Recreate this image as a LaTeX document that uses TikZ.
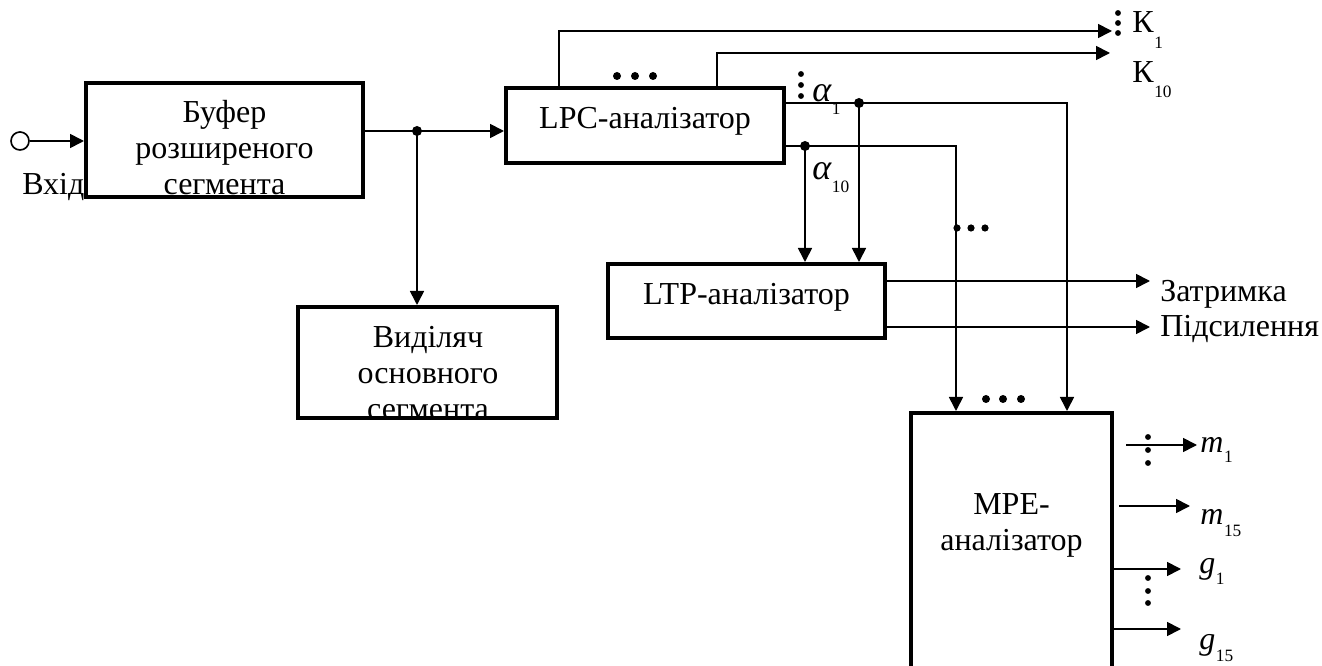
\documentclass[tikz,border=0pt]{standalone}
\usepackage{fontspec}
\setmainfont{Liberation Serif}
\usetikzlibrary{arrows.meta}
% subscript set well below the baseline
\newcommand{\lowsub}[2][9pt]{\kern0.5pt\raisebox{-#1}{\fontsize{13}{13}\selectfont #2}}
\begin{document}
\begin{tikzpicture}[x=0.75pt,y=-0.75pt,
  box/.style={draw,line width=3pt,inner sep=0pt},
  wire/.style={line width=1.25pt},
  arr/.style={wire,-{Triangle[length=10.5pt,width=10.5pt]}},
  txt/.style={font=\fontsize{24}{27}\selectfont,inner sep=0pt,align=center,text depth=0pt},
  lbl/.style={font=\fontsize{24}{27}\selectfont,inner sep=0pt,anchor=base west}]
\useasboundingbox (0,0) rectangle (1322,666);
\clip (0,0) rectangle (1322,666);

% blocks
\node[box,minimum width=207.75pt,minimum height=85.5pt] (buf) at (224.5,140) {};
\node[box,minimum width=208.5pt,minimum height=56.25pt] (lpc) at (645,125.5) {};
\node[box,minimum width=194.25pt,minimum height=83.25pt] (vid) at (427.5,362.5) {};
\node[box,minimum width=207.75pt,minimum height=55.5pt] (ltp) at (746.5,301) {};
\node[box,minimum width=150.75pt,minimum height=230.25pt] (mpe) at (1011.5,566.5) {};

% block texts (clipped to their frames)
\begin{scope}
  \clip (buf.south west) rectangle (buf.north east);
  \node[txt,anchor=south] (buftxt) at (224.5,195) {Буфер\\розширеного\\сегмента};
\end{scope}
\begin{scope}
  \clip (vid.south west) rectangle (vid.north east);
  \node[txt,anchor=south] (vidtxt) at (428,420) {Виділяч\\основного\\сегмента};
\end{scope}
\node[lbl,anchor=base] (lpctxt) at (645,129) {LPC-аналізатор};
\node[lbl,anchor=base] (ltptxt) at (746.5,305) {LTP-аналізатор};
\node[txt,anchor=south] (mpetxt) at (1011.5,551) {MPE-\\аналізатор};

% input
\node[circle,draw,wire,minimum size=13.5pt,inner sep=0pt] (in) at (20,141) {};
\node[lbl] (intxt) at (22,195) {Вхід};
\draw[arr] (in.east) -- (buf.west |- in);

% buffer output and branch
\coordinate (j0) at (417,131);
\draw[arr] (buf.east |- j0) -- (lpc.west |- j0);
\draw[arr] (j0) -- (j0 |- vid.north);
\fill (j0) circle[radius=3.75pt];

% reflection coefficients K
\coordinate (k1b) at (559,31);
\coordinate (k1) at (1112,31);
\coordinate (k10b) at (717,53);
\coordinate (k10) at (1110,53);
\draw[arr] (k1b |- lpc.north) -- (k1b) -- (k1);
\draw[arr] (k10b |- lpc.north) -- (k10b) -- (k10);
\foreach \x in {617,635,653} \fill (\x,76) circle[radius=3pt];
\foreach \y in {13,23,33} \fill (1118,\y) circle[radius=2.2pt];
\node[lbl] (lk1) at (1132,33) {К\lowsub[12pt]{1}};
\node[lbl] (lk10) at (1132,83) {К\lowsub[11pt]{10}};

% alpha outputs
\coordinate (a1e) at (1067,103);
\coordinate (a1j) at (859,103);
\coordinate (a10e) at (956,146);
\coordinate (a10j) at (805,146);
\draw[arr] (lpc.east |- a1e) -- (a1e) -- (a1e |- mpe.north);
\draw[arr] (lpc.east |- a10e) -- (a10e) -- (a10e |- mpe.north);
\draw[arr] (a1j) -- (a1j |- ltp.north);
\draw[arr] (a10j) -- (a10j |- ltp.north);
\fill (a1j) circle[radius=3.75pt];
\fill (a10j) circle[radius=3.75pt];
\foreach \y in {74,85,96} \fill (801,\y) circle[radius=2.2pt];
\node[lbl] (la1) at (812,102) {\fontsize{27}{27}\selectfont\itshape α\upshape\lowsub[9.5pt]{1}};
\node[lbl] (la10) at (812,180) {\fontsize{27}{27}\selectfont\itshape α\upshape\lowsub[9.5pt]{10}};
\foreach \x in {957,971,985} \fill (\x,228) circle[radius=2.7pt];
\foreach \x in {986,1003,1021} \fill (\x,399) circle[radius=3pt];

% LTP outputs
\coordinate (zt) at (1150,281);
\coordinate (ps) at (1150,327);
\draw[arr] (ltp.east |- zt) -- (zt);
\draw[arr] (ltp.east |- ps) -- (ps);
\node[lbl] (lzt) at (1160,302) {Затримка};
\node[lbl] (lps) at (1160,337) {Підсилення};

% MPE outputs
\coordinate (m1s) at (1126,445);
\coordinate (m1e) at (1197,445);
\coordinate (m15s) at (1119,506);
\coordinate (m15e) at (1190,506);
\coordinate (g1e) at (1181,569);
\coordinate (g15e) at (1181,629);
\draw[arr] (m1s) -- (m1e);
\draw[arr] (m15s) -- (m15e);
\draw[arr] (mpe.east |- g1e) -- (g1e);
\draw[arr] (mpe.east |- g15e) -- (g15e);
\foreach \y in {437,450,463} \fill (1148,\y) circle[radius=2.2pt];
\foreach \y in {578,591,603} \fill (1148,\y) circle[radius=2.2pt];
\node[lbl] (lm1) at (1200,453) {\itshape m\upshape\lowsub[7pt]{1}};
\node[lbl] (lm15) at (1200,525) {\itshape m\upshape\lowsub[9pt]{15}};
\node[lbl] (lg1) at (1199,574) {\itshape g\upshape\lowsub[8pt]{1}};
\node[lbl] (lg15) at (1199,649) {\itshape g\upshape\lowsub[9.5pt]{15}};
\end{tikzpicture}
\end{document}
